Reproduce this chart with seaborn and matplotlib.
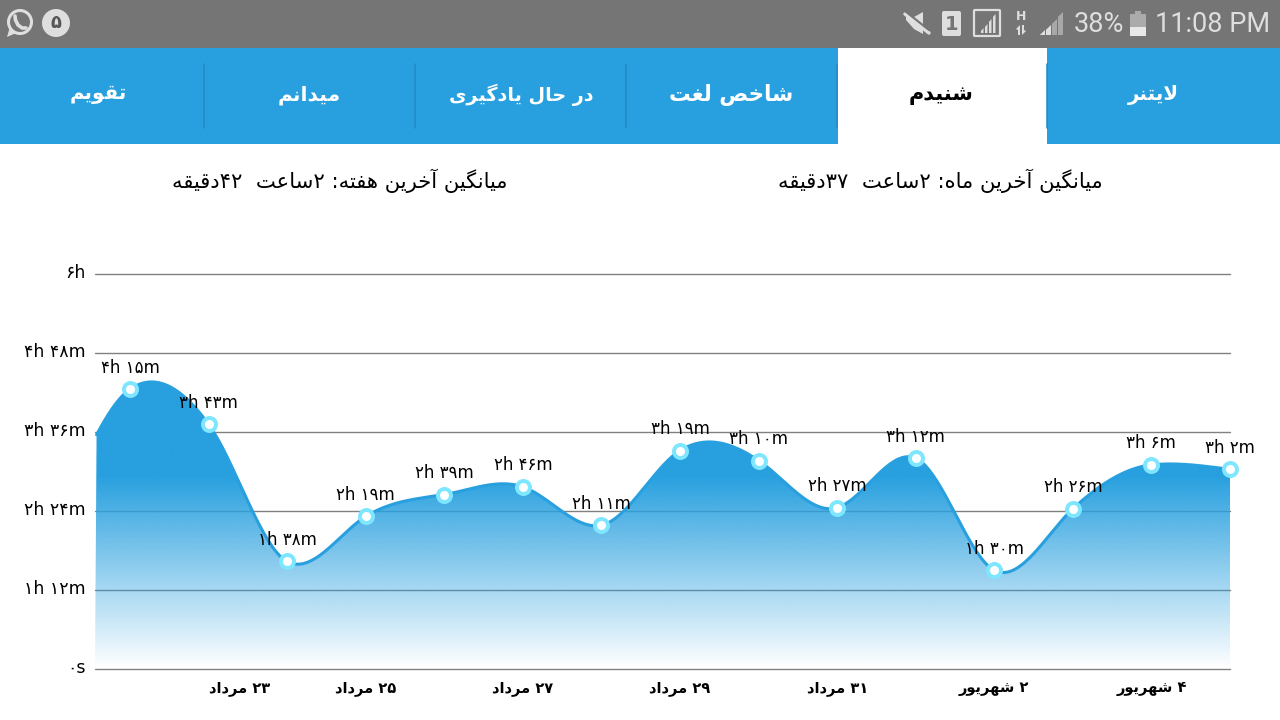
import re
import numpy as np
import pandas as pd
import seaborn as sns
import matplotlib.pyplot as plt
from matplotlib.patches import Rectangle, Circle, Polygon, FancyBboxPatch
from matplotlib.transforms import ScaledTranslation

# values, in minutes
days = [0, 1, 2, 3, 4, 5, 6, 7, 8, 9, 10, 11, 12, 13, 14]
minutes = [255, 223, 98, 139, 159, 166, 131, 199, 190, 147, 192, 90, 146, 186, 182]
# the day before the first point is scrolled off, the curve still comes from it
lead_in_day = -1
lead_in_minutes = 132

y_ticks = [0, 72, 144, 216, 288, 360]
y_labels = ['۰s', '۱h ۱۲m', '۲h ۲۴m', '۳h ۳۶m', '۴h ۴۸m', '۶h']
x_ticks = [1, 3, 5, 7, 9, 11, 13]
x_labels = ['۲۳ مرداد', '۲۵ مرداد', '۲۷ مرداد', '۲۹ مرداد', '۳۱ مرداد', '۲ شهریور', '۴ شهریور']

tabs = ['تقویم', 'میدانم', 'در حال یادگیری', 'شاخص لغت', 'شنیدم', 'لایتنر']
tab_centers = [98, 309, 521, 731, 941, 1153]
tab_sizes = [14.2, 14.5, 13.8, 15.5, 15, 14.2]
avg_week = 'میانگین آخرین هفته: ۲ساعت  ۴۲دقیقه'
avg_month = 'میانگین آخرین ماه: ۲ساعت  ۳۷دقیقه'

BLUE = '#28a0df'
GREY = '#757575'
ICON = '#dedede'
DIM = '#a8a8a8'

# matplotlib does not shape arabic script, so pick the joined forms by hand
FOUR = {'ب': 0xFE8F, 'ت': 0xFE95, 'ح': 0xFEA1, 'خ': 0xFEA5, 'س': 0xFEB1, 'ش': 0xFEB5,
        'ص': 0xFEB9, 'ع': 0xFEC9, 'غ': 0xFECD, 'ف': 0xFED1, 'ق': 0xFED5, 'ل': 0xFEDD,
        'م': 0xFEE1, 'ن': 0xFEE5, 'ه': 0xFEE9, 'ی': 0xFBFC, 'گ': 0xFB92}
TWO = {'ا': 0xFE8D, 'آ': 0xFE81, 'د': 0xFEA9, 'ر': 0xFEAD, 'و': 0xFEED}


def shape(text):
    out = []
    i = 0
    joined = False
    while i < len(text):
        ch = text[i]
        nxt = text[i + 1] if i + 1 < len(text) else ''
        if ch == 'ل' and nxt == 'ا':
            out.append(chr(0xFEFC if joined else 0xFEFB))
            joined = False
            i += 2
        elif ch in FOUR:
            form = (1 if joined else 0)
            if nxt in FOUR or nxt in TWO:
                form = 3 if joined else 2
            out.append(chr(FOUR[ch] + form))
            joined = form >= 2
            i += 1
        elif ch in TWO:
            out.append(chr(TWO[ch] + (1 if joined else 0)))
            joined = False
            i += 1
        else:
            out.append(ch)
            joined = False
            i += 1
    return ''.join(out)


def fa(text):
    runs = re.findall(r'[۰-۹]+|[^۰-۹]+', shape(text))
    return ''.join(r if r[0] in '۰۱۲۳۴۵۶۷۸۹' else r[::-1] for r in reversed(runs))


def duration(m):
    txt = f'{m // 60}h {m % 60}m'
    return txt.translate(str.maketrans('0123456789', '۰۱۲۳۴۵۶۷۸۹'))


def smooth(x, y, tension=0.82, per_segment=40):
    # spline slopes at the points, eased a bit so the humps stay as low as the app's
    x = np.array(x, dtype=float)
    y = np.array(y, dtype=float)
    n = len(x)
    A = np.zeros((n, n))
    b = np.zeros(n)
    A[0, 0] = A[-1, -1] = 1
    for i in range(1, n - 1):
        A[i, i - 1] = x[i] - x[i - 1]
        A[i, i] = 2 * (x[i + 1] - x[i - 1])
        A[i, i + 1] = x[i + 1] - x[i]
        b[i] = 6 * ((y[i + 1] - y[i]) / (x[i + 1] - x[i]) - (y[i] - y[i - 1]) / (x[i] - x[i - 1]))
    M = np.linalg.solve(A, b)
    h = np.diff(x)
    slope = np.zeros(n)
    slope[:-1] = np.diff(y) / h - h * (2 * M[:-1] + M[1:]) / 6
    slope[-1] = (y[-1] - y[-2]) / h[-1] + h[-1] * (M[-2] + 2 * M[-1]) / 6
    slope *= tension
    xs, ys = [], []
    for i in range(n - 1):
        t = np.linspace(0, 1, per_segment, endpoint=False)
        s = ((2 * t ** 3 - 3 * t ** 2 + 1) * y[i] + (t ** 3 - 2 * t ** 2 + t) * h[i] * slope[i]
             + (-2 * t ** 3 + 3 * t ** 2) * y[i + 1] + (t ** 3 - t ** 2) * h[i] * slope[i + 1])
        xs.extend(x[i] + t * h[i])
        ys.extend(s)
    xs.append(x[-1])
    ys.append(y[-1])
    return np.array(xs), np.array(ys)


def signal_bars(axis, left, bottom, step, width, heights, colors):
    # bars with a slanted top, the whole set reads as a triangle
    rise = max(heights) / (len(heights) * step)
    for i, (bar_h, col) in enumerate(zip(heights, colors)):
        x0 = left + i * step
        axis.add_patch(Polygon([[x0, bottom], [x0 + width, bottom], [x0 + width, bottom - bar_h],
                                [x0, bottom - bar_h + width * rise]], color=col, lw=0))


sns.set_theme(style='white')
plt.rcParams['font.family'] = ['DejaVu Sans']

fig = plt.figure(figsize=(12.8, 7.2), dpi=100)

# app chrome, in screen pixels
ui = fig.add_axes([0, 0, 1, 1], zorder=0)
ui.set_xlim(0, 1280)
ui.set_ylim(720, 0)
ui.axis('off')
ui.add_patch(Rectangle((0, 0), 1280, 48, color=GREY, lw=0))
ui.add_patch(Rectangle((0, 48), 1280, 96, color=BLUE, lw=0))
ui.add_patch(Rectangle((838, 48), 209, 96, color='white', lw=0))
for xd in [204, 415, 626, 837, 1047]:
    ui.plot([xd, xd], [64, 128], color='#2488c4', lw=1.1)
for label, xc, size in zip(tabs, tab_centers, tab_sizes):
    active = label == 'شنیدم'
    ui.text(xc, 95, fa(label), color='black' if active else 'white', fontsize=size,
            fontweight='bold', ha='center', va='center')
ui.text(940, 181, fa(avg_month), color='black', fontsize=15.2, ha='center', va='center')
ui.text(340, 181, fa(avg_week), color='black', fontsize=15.2, ha='center', va='center')

# status bar, left side
ui.add_patch(Circle((20, 22), 11.5, fill=False, ec=ICON, lw=2.2))
ui.add_patch(Polygon([[7, 37], [10, 27], [16, 33]], color=ICON, lw=0))
ui.plot([15, 15.5, 18, 22, 26], [16, 20, 25, 28, 28], color=ICON, lw=2.6, solid_capstyle='round')
ui.add_patch(Circle((56, 23), 14, color=ICON, lw=0))
ui.text(56, 23, '۵', color='#555555', fontsize=13, fontweight='bold', ha='center', va='center')

# status bar, right side
ui.add_patch(Polygon([[906, 17], [914, 17], [923, 12], [923, 34], [914, 29], [906, 20]], color=ICON, lw=0))
ui.plot([905, 929], [14, 33], color=ICON, lw=2.5)
ui.plot([905, 929], [11, 30], color=GREY, lw=1.5)
ui.add_patch(FancyBboxPatch((944, 13), 15, 21, boxstyle='round,pad=2', color=ICON, lw=0))
ui.text(951.5, 24, '1', color=GREY, fontsize=14, fontweight='bold', ha='center', va='center')
ui.add_patch(FancyBboxPatch((975, 11), 24, 24, boxstyle='round,pad=1', fill=False, ec=ICON, lw=1.6))
signal_bars(ui, 981, 33, 4, 2.5, [5, 9, 14, 19], [ICON, ICON, ICON, ICON])
ui.text(1021, 17, 'H', color=ICON, fontsize=9, fontweight='bold', ha='center', va='center')
ui.add_patch(Polygon([[1016, 29], [1020, 25], [1020, 35], [1018, 35], [1018, 30]], color=ICON, lw=0))
ui.add_patch(Polygon([[1026, 31], [1022, 35], [1022, 25], [1024, 25], [1024, 30]], color=ICON, lw=0))
signal_bars(ui, 1040, 35, 6, 5, [5, 10, 16, 23], [ICON, ICON, DIM, DIM])
ui.text(1099, 24, '38%', color=ICON, fontsize=19.5, family='Roboto', ha='center', va='center')
ui.add_patch(Rectangle((1130, 14), 16, 22, color='#ababab', lw=0))
ui.add_patch(Rectangle((1135, 11), 6, 3, color='#ababab', lw=0))
ui.add_patch(Rectangle((1130, 27), 16, 9, color='#e8e8e8', lw=0))
ui.text(1213, 24, '11:08 PM', color=ICON, fontsize=19.5, family='Roboto', ha='center', va='center')

# the chart itself
ax = fig.add_axes([95 / 1280, (720 - 669) / 720, 1135 / 1280, 395 / 720], zorder=1)
ax.patch.set_alpha(0)
x_min = -0.445
x_max = 14

curve_x, curve_y = smooth([lead_in_day] + days, [lead_in_minutes] + minutes)
keep = curve_x >= x_min
curve = pd.DataFrame({'x': curve_x[keep], 'y': curve_y[keep]})
points = pd.DataFrame({'day': days, 'minutes': minutes})

ax.set_yticks(y_ticks)
ax.set_yticklabels(y_labels, fontsize=12.5, color='black')
ax.set_xticks(x_ticks)
ax.set_xticklabels([fa(t) for t in x_labels], fontsize=10.5, color='black', fontweight='bold')
ax.tick_params(axis='y', length=0, pad=7)
ax.tick_params(axis='x', length=0, pad=9)
ax.get_xticklabels()[0].set_ha('left')
for lbl in ax.get_yticklabels():
    lbl.set_transform(lbl.get_transform() + ScaledTranslation(0, 2 / 72, fig.dpi_scale_trans))
ax.grid(False)
for t in y_ticks:
    ax.axhline(t, color='#808080', lw=1, zorder=1, clip_on=False)
sns.despine(ax=ax, left=True, bottom=True)

# fill: blue that goes transparent to the baseline, grid shows through low down
alpha = np.clip(np.linspace(360, 0, 256) / 175, 0, 1)
rgba = np.ones((256, 1, 4))
rgba[..., :3] = [0x28 / 255, 0xA0 / 255, 0xDF / 255]
rgba[:, 0, 3] = alpha
img = ax.imshow(rgba, extent=[x_min, x_max, 0, 360], aspect='auto', zorder=2, interpolation='bilinear')
clip = Polygon(np.column_stack([np.r_[curve['x'], x_max, x_min], np.r_[curve['y'], 0, 0]]),
               transform=ax.transData, fill=False, lw=0)
ax.add_patch(clip)
img.set_clip_path(clip)

sns.lineplot(data=curve, x='x', y='y', ax=ax, color=BLUE, lw=2.2, zorder=3, estimator=None, sort=False)
sns.scatterplot(data=points, x='day', y='minutes', ax=ax, s=150, color='#7fe6ff', linewidth=0, zorder=4, clip_on=False)
sns.scatterplot(data=points, x='day', y='minutes', ax=ax, s=42, color='white', linewidth=0, zorder=5, clip_on=False)

for d, m in zip(days, minutes):
    ax.annotate(duration(m), (d, m), xytext=(0, 15.5), textcoords='offset points', ha='center',
                va='center', fontsize=12, color='black', zorder=6, annotation_clip=False)

ax.set_xlim(x_min, x_max)
ax.set_ylim(0, 360)
ax.set_xlabel('')
ax.set_ylabel('')

fig.savefig('out.png', dpi=100)
